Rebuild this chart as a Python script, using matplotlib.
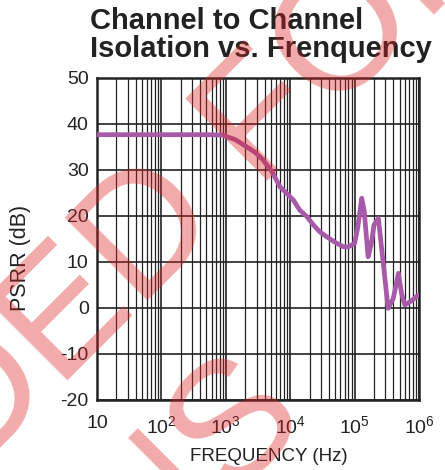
import numpy as np
import matplotlib
matplotlib.use("Agg")
import matplotlib.pyplot as plt
from matplotlib.ticker import FixedLocator, LogLocator, NullFormatter

plt.rcParams['font.family'] = ['Liberation Sans', 'DejaVu Sans']
plt.rcParams['mathtext.fontset'] = 'custom'
plt.rcParams['mathtext.rm'] = 'Liberation Sans'
plt.rcParams['mathtext.it'] = 'Liberation Sans'
plt.rcParams['axes.unicode_minus'] = False

# data
freq_hz = [10, 100, 500, 890, 1410, 2090, 2820, 3800, 5250, 6920, 8910,
           11200, 14100, 18200, 22900, 28800, 37200, 50100, 66100, 79400,
           100000, 112000, 129000, 141000, 162000, 182000, 200000, 234000,
           282000, 331000, 398000, 479000, 537000, 603000, 759000, 977000]
isolation_db = [37.6, 37.6, 37.6, 37.5, 36.5, 35.0, 33.8, 32.1, 29.5, 26.3, 24.8,
                23.4, 21.2, 19.8, 18.0, 16.5, 15.4, 14.2, 13.3, 13.2,
                14.0, 17.5, 23.8, 21.0, 11.1, 14.0, 18.0, 19.4,
                9.0, -0.1, 2.0, 7.5, 3.0, 0.6, 1.5, 2.8]

x_ticks = [10, 1e2, 1e3, 1e4, 1e5, 1e6]
x_ticklabels = ['10', '$10^{2}$', '$10^{3}$', '$10^{4}$', '$10^{5}$', '$10^{6}$']
y_ticks = [-20, -10, 0, 10, 20, 30, 40, 50]

fig = plt.figure(figsize=(4.45, 4.70), dpi=100)
ax = fig.add_axes([0.218, 0.149, 0.7236, 0.686])

ax.semilogx(freq_hz, isolation_db, color='#a65aa8', lw=3.4,
            solid_joinstyle='round', solid_capstyle='round', zorder=3)

ax.set_xlim(10, 1e6)
ax.set_ylim(-20, 50)
ax.xaxis.set_major_locator(FixedLocator(x_ticks))
ax.xaxis.set_minor_locator(LogLocator(base=10, subs=np.arange(2, 10)))
ax.xaxis.set_minor_formatter(NullFormatter())
ax.set_xticklabels(x_ticklabels)
ax.set_yticks(y_ticks)
ax.tick_params(which='both', length=0, labelsize=14, colors='#222222')
ax.tick_params(axis='x', pad=11)
ax.tick_params(axis='y', pad=6)

ax.grid(True, which='major', color='#222222', lw=1.2)
ax.grid(True, which='minor', axis='x', color='#222222', lw=0.9)
ax.set_axisbelow(True)
for s in ax.spines.values():
    s.set_linewidth(1.8)
    s.set_color('#222222')

ax.set_xlabel('FREQUENCY (Hz)', fontsize=13.5, color='#222222')
ax.xaxis.set_label_coords(0.535, -0.15)
ax.set_ylabel('PSRR (dB)', fontsize=15.5, color='#222222')
ax.yaxis.set_label_coords(-0.205, 0.44)

fig.text(0.203, 0.878, 'Channel to Channel\nIsolation vs. Frenquency',
         fontsize=21, fontweight='bold', color='#222222',
         ha='left', va='baseline', linespacing=1.0)

# diagonal watermark
fig.text(1.079, 1.2, 'RECOMMENDED FOR', fontsize=122, color='#dd2222',
         alpha=0.38, rotation=45, rotation_mode='anchor',
         ha='right', va='center', zorder=10)
fig.text(0.629, 0.17, 'NEW DESIGNS', fontsize=122, color='#dd2222',
         alpha=0.38, rotation=45, rotation_mode='anchor',
         ha='right', va='center', zorder=10)

fig.savefig('out.png', dpi=100)
